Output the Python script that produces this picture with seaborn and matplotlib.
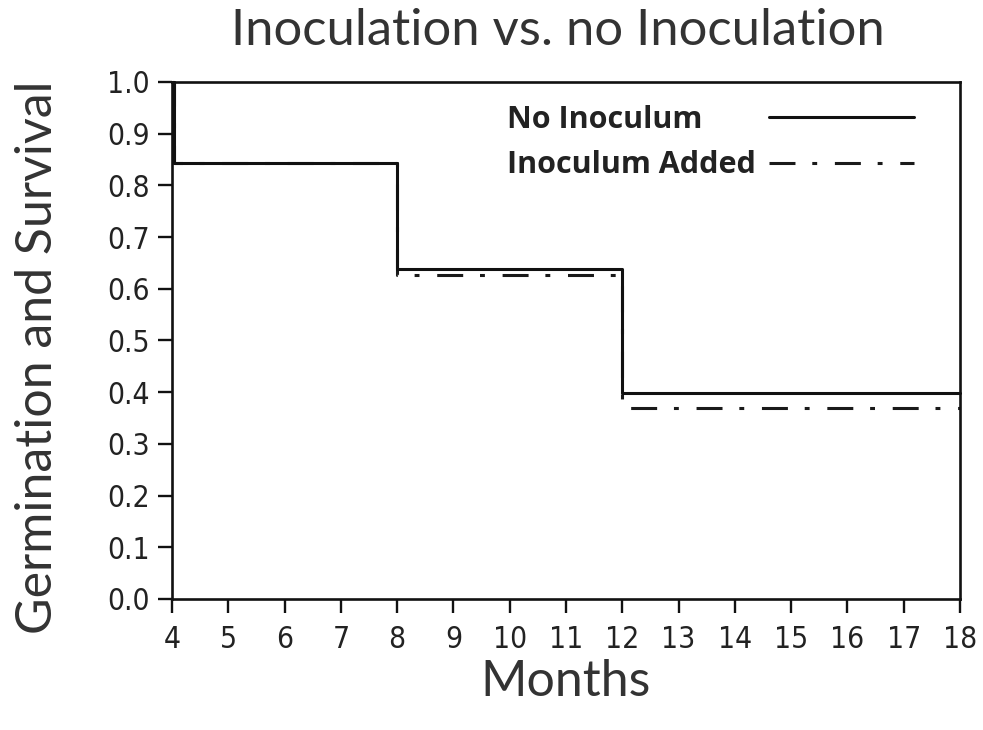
import numpy as np
import pandas as pd
import matplotlib
matplotlib.use("Agg")
import matplotlib.pyplot as plt
from matplotlib.transforms import Bbox
import seaborn as sns

# Data
months_no = [4, 4.04, 8, 12, 18]
surv_no = [1.0, 0.844, 0.639, 0.398, 0.398]
months_inoc = [4, 4.04, 8, 12, 18]
surv_inoc = [1.0, 0.844, 0.626, 0.370, 0.370]
series_names = ["No Inoculum", "Inoculum Added"]
x_ticks = list(range(4, 19))
y_ticks = [round(0.1 * i, 1) for i in range(11)]

sns.set_style("white")
plt.rcParams['font.family'] = ['DejaVu Sans']

df_no = pd.DataFrame({"Months": months_no, "S": surv_no})
df_in = pd.DataFrame({"Months": months_inoc, "S": surv_inoc})

fig = plt.figure(figsize=(9.83, 7.30), dpi=100)
ax = fig.add_axes([0.175, 0.1795, 0.8016, 0.7082])

sns.lineplot(data=df_in, x="Months", y="S", ax=ax, estimator=None, sort=False,
             drawstyle="steps-post", color="#1a1a1a", lw=2.2,
             linestyle=(0, (8.5, 5.5, 1.6, 5.8)), label=series_names[1], zorder=2,
             clip_on=False)
sns.lineplot(data=df_no, x="Months", y="S", ax=ax, estimator=None, sort=False,
             drawstyle="steps-post", color="#111111", lw=2.2,
             label=series_names[0], zorder=3, clip_on=False)

ax.set_xlim(4, 18)
ax.set_ylim(0, 1.0)
ax.set_xticks(x_ticks)
ax.set_xticklabels([str(t) for t in x_ticks])
ax.set_yticks(y_ticks)
ax.set_yticklabels([f"{t:.1f}" for t in y_ticks])
for s in ax.spines.values():
    s.set_linewidth(1.9)
    s.set_color("#111111")
ax.tick_params(axis="both", direction="out", length=10, width=1.7, color="#111111",
               labelsize=21.5, labelcolor="#222222", pad=6, bottom=True, left=True)
ax.tick_params(axis="x", pad=9)
for t in ax.get_xticklabels() + ax.get_yticklabels():
    t.set_fontstretch("condensed")

lab_font = ['Lato', 'DejaVu Sans']
ax.set_xlabel("Months", fontsize=36, family=lab_font, color="#333333", va="center")
ax.xaxis.set_label_coords(0.5, -0.16)
ax.set_ylabel("Germination and Survival", fontsize=36, family=lab_font, color="#333333", va="center")
ax.yaxis.set_label_coords(-0.17, 0.468)
fig.text(0.568, 0.957, "Inoculation vs. no Inoculation", fontsize=36.5, family=lab_font,
         color="#333333", ha="center", va="center")

handles, labels = ax.get_legend_handles_labels()
order = [labels.index(n) for n in series_names]
leg = ax.legend([handles[i] for i in order], [labels[i] for i in order],
                loc="upper left", bbox_to_anchor=((507 - 172) / 788, (599 - 105) / 517),
                frameon=False, markerfirst=False, handlelength=4.75, handletextpad=0.42,
                borderaxespad=0, borderpad=0, labelspacing=0.5,
                prop={'family': ['Open Sans', 'DejaVu Sans'], 'weight': 'bold', 'size': 22})
for t in leg.get_texts():
    t.set_color("#222222")

# left-align legend labels in a fixed-width column so the handles line up
try:
    rows = [r for col in leg._legend_handle_box.get_children() for r in col.get_children()]
    tas = [r.get_children()[0] for r in rows]
    origs = [ta.get_bbox for ta in tas]
    def make(orig):
        def gb(renderer):
            b = orig(renderer)
            W = max(o(renderer).width for o in origs)
            return Bbox.from_bounds(b.x0, b.y0, W, b.height)
        return gb
    for ta, o in zip(tas, origs):
        ta.get_bbox = make(o)
except Exception:
    pass

fig.savefig("out.png", dpi=100)
